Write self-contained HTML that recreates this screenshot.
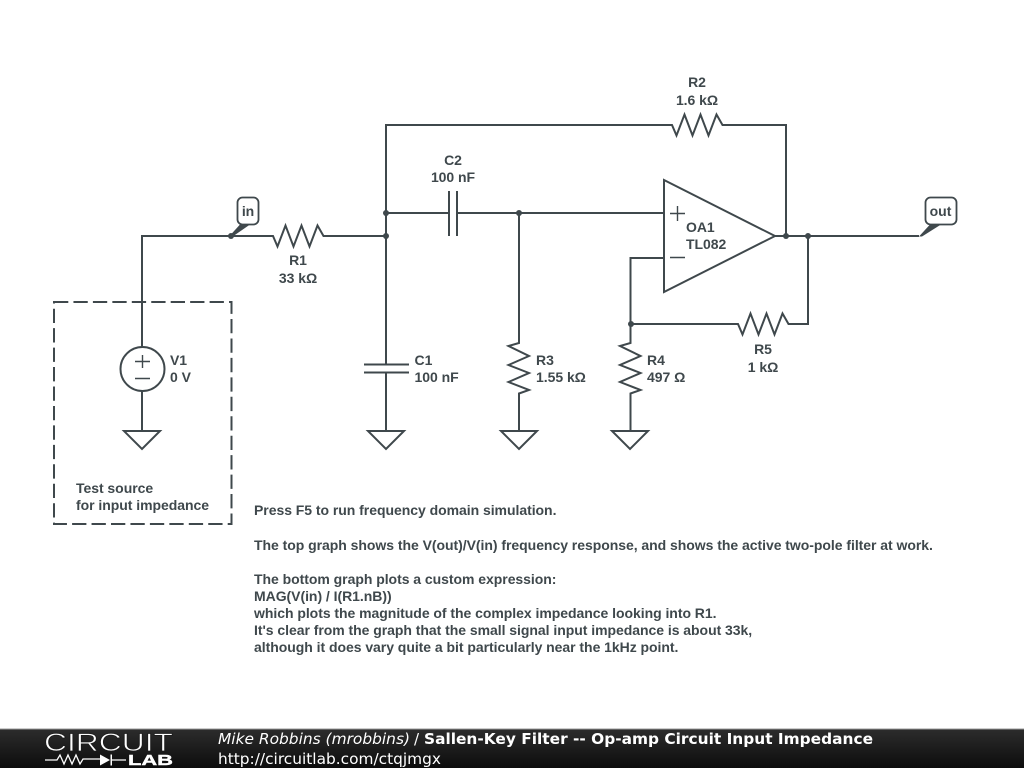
<!DOCTYPE html>
<html><head><meta charset="utf-8"><style>
html,body{margin:0;padding:0;background:#fff;width:1024px;height:768px;overflow:hidden}
svg{display:block;filter:blur(.3px)}
.w{fill:none;stroke:#3f484c;stroke-width:2}
.p{fill:none;stroke:#3f484c;stroke-width:1.400}
.t{font-family:"Liberation Sans",sans-serif;font-weight:bold;font-size:14px;fill:#3f484c;letter-spacing:-.04px}
.m{text-anchor:middle}
.f{font-family:"DejaVu Sans",sans-serif;font-size:15px;fill:#fff}
</style></head><body>
<svg width="1024" height="768" viewBox="0 0 1024 768" xmlns="http://www.w3.org/2000/svg">
<defs><linearGradient id="g" x1="0" y1="0" x2="0" y2="1"><stop offset="0" stop-color="#2c2c2c"/><stop offset="1" stop-color="#0c0c0c"/></linearGradient></defs>
<rect width="1024" height="768" fill="#fff"/>
<g class="w">
<path d="M142 347V236H273l4.500 10.500 8-21 8 21 8-21 8 21 8-21 6 10.500H386"/>
<path d="M386 365V125H672l4.500 10.500 8-21 8 21 8-21 8 21 8-21 6 10.500H786V236"/>
<path d="M386 213H449M457 213H664M664 258H630.500V343l-10.500 3 20.500 10-20.500 9 20.500 8-20.500 9 20.500 8-10 3.500V431"/>
<path d="M519 213V343l-10.500 3 20.500 10-20.500 9 20.500 8-20.500 9 20.500 8-10 3.500V431"/>
<path d="M631 324H738l4.500 10.500 8-21 8 21 8-21 8 21 8-21 6 10.500H808V236"/>
<path d="M775 236H919"/>
<path d="M386 373V431"/>
<path d="M364 364.500H409M364 372.500H409M449 191V236M457 191V236"/>
<path d="M142 391V431"/>
<path d="M124 431H160L142 449ZM368 431H404L386 449ZM501 431H537L519 449ZM612 431H648L630 449Z"/>
<path d="M664 180L775 236L664 292Z"/>
<circle cx="142.500" cy="369" r="22"/>
<path d="M54 302H231.500V524H54Z" stroke-dasharray="14.300 5.150"/>
<rect x="237.500" y="197.500" width="21" height="27" rx="5" stroke-width="1.800" fill="#fff"/>
<rect x="925.500" y="197.500" width="31" height="27" rx="5" stroke-width="1.800" fill="#fff"/>
</g>
<path class="p" d="M670 213.500H685M677.500 206V221M670 257.500H685M135 361.500H150M142.500 355V368M135 378.500H150"/>
<g fill="#3f484c">
<circle cx="231" cy="236" r="3"/><circle cx="386" cy="236" r="3"/><circle cx="386" cy="213" r="3"/><circle cx="519" cy="213" r="3"/><circle cx="631" cy="324" r="3"/><circle cx="786" cy="236" r="3"/><circle cx="808" cy="236" r="3"/>
<path d="M230 235.500L240 224.500H250L232 237Z"/>
<path d="M919 236.500L930 224.500H941L922 236.500Z"/>
</g>
<text class="t m" x="248" y="216">in</text>
<text class="t m" x="940.500" y="216">out</text>
<text class="t m" x="298" y="265">R1</text><text class="t m" x="298" y="283">33 kΩ</text>
<text class="t m" x="697" y="87">R2</text><text class="t m" x="697" y="105">1.6 kΩ</text>
<text class="t m" x="453" y="165">C2</text><text class="t m" x="453" y="182">100 nF</text>
<text class="t m" x="763" y="354">R5</text><text class="t m" x="763" y="372">1 kΩ</text>
<text class="t" x="170" y="365">V1</text><text class="t" x="170" y="382">0 V</text>
<text class="t" x="414.500" y="365">C1</text><text class="t" x="414.500" y="382">100 nF</text>
<text class="t" x="536" y="365">R3</text><text class="t" x="536" y="382">1.55 kΩ</text>
<text class="t" x="647" y="365">R4</text><text class="t" x="647" y="382">497 Ω</text>
<text class="t" x="686" y="232">OA1</text><text class="t" x="686" y="249">TL082</text>
<text class="t" x="76" y="493">Test source</text><text class="t" x="76" y="510">for input impedance</text>
<text class="t" x="254" y="515">Press F5 to run frequency domain simulation.</text>
<text class="t" x="254" y="550">The top graph shows the V(out)/V(in) frequency response, and shows the active two-pole filter at work.</text>
<text class="t" x="254" y="584">The bottom graph plots a custom expression:</text>
<text class="t" x="254" y="601">MAG(V(in) / I(R1.nB))</text>
<text class="t" x="254" y="618">which plots the magnitude of the complex impedance looking into R1.</text>
<text class="t" x="254" y="635">It's clear from the graph that the small signal input impedance is about 33k,</text>
<text class="t" x="254" y="652">although it does vary quite a bit particularly near the 1kHz point.</text>
<rect y="729" width="1024" height="39" fill="url(#g)"/>
<rect y="728.500" width="1024" height="1" fill="#999"/>
<text x="44" y="751" font-family="Liberation Sans,sans-serif" font-size="25" fill="#fff" stroke="#1c1c1c" stroke-width="0.700" textLength="129" lengthAdjust="spacingAndGlyphs">CIRCUIT</text>
<path d="M45 760H57l3 -5 4 9 4 -9 4 9 4 -9 4 9 3 -5H100M112 760H126" fill="none" stroke="#fff" stroke-width="1.300"/>
<path d="M100 754.500L110 760L100 765.500ZM110.500 754.500H112V765.500H110.500Z" fill="#fff"/>
<text x="128" y="765" font-family="Liberation Sans,sans-serif" font-weight="bold" font-size="15" fill="#fff" stroke="#fff" stroke-width="0.400" textLength="45" lengthAdjust="spacingAndGlyphs">LAB</text>
<text class="f" x="218" y="744" font-style="italic" textLength="192" lengthAdjust="spacingAndGlyphs">Mike Robbins (mrobbins)</text>
<text class="f" x="414" y="744">/</text>
<text class="f" x="424" y="744" font-weight="bold" textLength="449" lengthAdjust="spacingAndGlyphs">Sallen-Key Filter -- Op-amp Circuit Input Impedance</text>
<text class="f" x="218" y="764" textLength="223" lengthAdjust="spacingAndGlyphs">http://circuitlab.com/ctqjmgx</text>
</svg>
</body></html>
